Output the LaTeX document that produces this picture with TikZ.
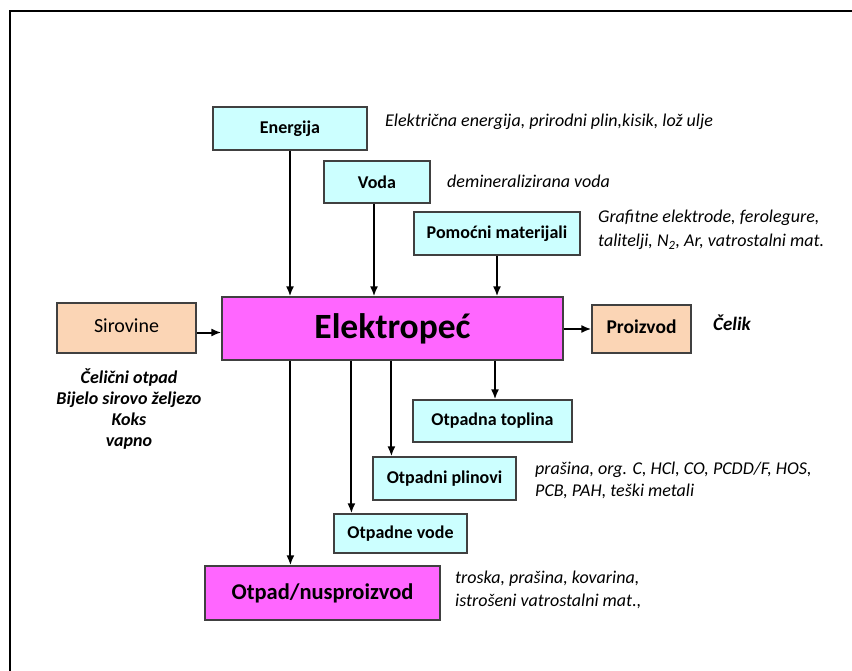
\documentclass[tikz,border=0pt]{standalone}
\usepackage{fontspec}
\setmainfont{Carlito}
\usetikzlibrary{arrows.meta}
\definecolor{svijetloplava}{HTML}{CCFFFF}
\definecolor{ruzicasta}{HTML}{FF66FF}
\definecolor{breskva}{HTML}{FBD5B5}
\definecolor{rub}{HTML}{404040}
\begin{document}
\begin{tikzpicture}[x=1pt,y=-1pt,
  kutija/.style={draw=rub,line width=1.2pt,inner sep=0pt,font=\bfseries\fontsize{18}{20}\selectfont},
  ulaz/.style={kutija,fill=svijetloplava},
  sirovo/.style={kutija,fill=breskva},
  glavna/.style={kutija,fill=ruzicasta},
  opis/.style={anchor=west,inner sep=0pt,align=left,font=\itshape\fontsize{18}{23}\selectfont},
  strelica/.style={line width=2pt,-{Latex[length=10pt,width=8pt]}}]
\useasboundingbox (0,0) rectangle (852,671);
\draw[line width=2pt] (10,671) -- (10,11) -- (852,11);
\node[ulaz,minimum width=154pt,minimum height=43pt] (en) at (290,128.5) {Energija};
\node[ulaz,minimum width=106pt,minimum height=42pt] (vd) at (377,182) {Voda};
\node[ulaz,minimum width=166pt,minimum height=43pt] (pm) at (497,233.5) {Pomoćni materijali};
\node[sirovo,minimum width=139pt,minimum height=50pt,font=\fontsize{20}{22}\selectfont] (sir) at (126.5,328) {\raisebox{5pt}{Sirovine}};
\node[glavna,minimum width=341pt,minimum height=63pt,font=\bfseries\fontsize{35.5}{38}\selectfont] (ep) at (392.5,328.5) {Elektropeć};
\node[sirovo,minimum width=99pt,minimum height=48pt,font=\bfseries\fontsize{19.5}{22}\selectfont] (pr) at (641.5,329) {\raisebox{4pt}{Proizvod}};
\node[ulaz,minimum width=159pt,minimum height=42pt] (ot) at (492.5,421) {Otpadna toplina};
\node[ulaz,minimum width=143pt,minimum height=43pt] (op) at (444.5,478.5) {Otpadni plinovi};
\node[ulaz,minimum width=133pt,minimum height=39pt] (ov) at (400.5,533.5) {Otpadne vode};
\node[glavna,minimum width=235pt,minimum height=54pt,font=\bfseries\fontsize{22.5}{25}\selectfont] (on) at (322.5,593) {Otpad/nusproizvod};
\node[opis] (enopis) at (385,122) {Električna energija, prirodni plin,kisik, lož ulje};
\node[opis] (vdopis) at (447,181) {demineralizirana voda};
\node[opis,font=\itshape\fontsize{18}{24}\selectfont] (pmopis) at (598,230) {Grafitne elektrode, ferolegure,\\talitelji, N\textsubscript{2}, Ar, vatrostalni mat.};
\node[inner sep=0pt,align=center,font=\bfseries\itshape\fontsize{18}{21}\selectfont] (siropis) at (129,409.5) {Čelični otpad\\Bijelo sirovo željezo\\Koks\\vapno};
\node[opis,font=\bfseries\itshape\fontsize{19}{21}\selectfont] (propis) at (713,323) {Čelik};
\node[opis,font=\itshape\fontsize{18}{22}\selectfont] (opopis) at (535,480) {prašina, org. C, HCl, CO, PCDD/F, HOS,\\PCB, PAH, teški metali};
\node[opis] (onopis) at (455,589.5) {troska, prašina, kovarina,\\istrošeni vatrostalni mat.,};
\draw[strelica] (en.south) -- (en.south |- ep.north);
\draw[strelica] ([xshift=-3pt]vd.south) -- ([xshift=-3pt]vd.south |- ep.north);
\draw[strelica] (pm.south) -- (pm.south |- ep.north);
\draw[strelica] ([yshift=-4pt]sir.east |- ep.west) -- ([yshift=-4pt]ep.west);
\draw[strelica] (ep.east |- pr.west) -- (pr.west);
\draw[strelica] ([xshift=2.5pt]ot.north |- ep.south) -- ([xshift=2.5pt]ot.north);
\draw[strelica] ([xshift=19pt]op.north west |- ep.south) -- ([xshift=19pt]op.north west);
\draw[strelica] ([xshift=18pt]ov.north west |- ep.south) -- ([xshift=18pt]ov.north west);
\draw[strelica] ([xshift=86pt]on.north west |- ep.south) -- ([xshift=86pt]on.north west);
\end{tikzpicture}
\end{document}
